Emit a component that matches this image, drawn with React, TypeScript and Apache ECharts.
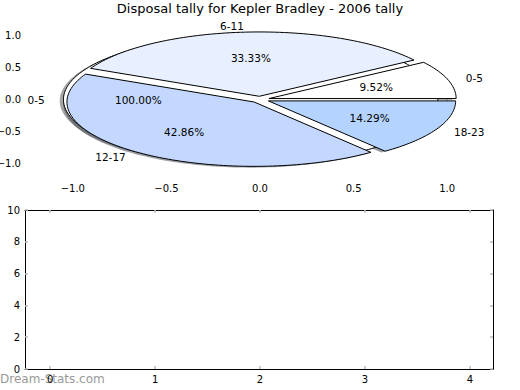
import React, { useEffect, useRef } from "react";
import * as echarts from "echarts";

const titleText = "Disposal tally for Kepler Bradley - 2006 tally";
const watermarkText = "Dream-Stats.com";

// Background (single-slice) pie
const backCategories = ["0-5"];
const backValues = [1];
// Foreground pie
const categories = ["0-5", "6-11", "12-17", "18-23"];
const values = [2, 7, 9, 3];

// Tick values
const pieXTicks = [-1, -0.5, 0, 0.5, 1];
const pieYTicks = [-1, -0.5, 0, 0.5, 1];
const barXTicks = [0, 1, 2, 3, 4];
const barYTicks = [0, 2, 4, 6, 8, 10];

// Styles
const backColors = ["#ffffff"];
const colors = ["#ffffff", "#e8f0ff", "#c4d8ff", "#b4d4ff"];
const EXPLODE = 0.05;
const SHADOW_OFF = -0.02;
const FONT = "DejaVu Sans";

type Wedge = {
  start: number;
  end: number;
  color: string;
  label: string;
  pct: string;
  explode: number;
};

function buildPie(labels: string[], vals: number[], cols: string[], explode: number): Wedge[] {
  const total = vals.reduce((a, b) => a + b, 0);
  let theta = 0;
  return vals.map((v, i) => {
    const t1 = theta + (360 * v) / total;
    const w = {
      start: theta,
      end: t1,
      color: cols[i],
      label: labels[i],
      pct: ((100 * v) / total).toFixed(2) + "%",
      explode,
    };
    theta = t1;
    return w;
  });
}

const wedges: Wedge[] = [
  ...buildPie(backCategories, backValues, backColors, EXPLODE),
  ...buildPie(categories, values, colors, EXPLODE),
];

function center(w: Wedge): [number, number] {
  const m = (((w.start + w.end) / 2) * Math.PI) / 180;
  return [w.explode * Math.cos(m), w.explode * Math.sin(m)];
}

function wedgePoints(api: any, w: Wedge, ox: number, oy: number) {
  const [cx, cy] = center(w);
  const pts: number[][] = [];
  const full = w.end - w.start >= 359.999;
  if (!full) pts.push(api.coord([cx + ox, cy + oy]));
  const n = Math.max(4, Math.ceil((w.end - w.start) / 1.5));
  const last = full ? n - 1 : n;
  for (let k = 0; k <= last; k++) {
    const a = ((w.start + ((w.end - w.start) * k) / n) * Math.PI) / 180;
    pts.push(api.coord([cx + ox + Math.cos(a), cy + oy + Math.sin(a)]));
  }
  return pts;
}

function shadowColor(hex: string) {
  const r = parseInt(hex.slice(1, 3), 16);
  const g = parseInt(hex.slice(3, 5), 16);
  const b = parseInt(hex.slice(5, 7), 16);
  return `rgba(${Math.round(r * 0.3)},${Math.round(g * 0.3)},${Math.round(b * 0.3)},0.5)`;
}

const fmtPie = (v: number) => (v < 0 ? "\u2212" : "") + Math.abs(v).toFixed(1);

const tickStyle = { color: "#bdbdbd", width: 1.5 };

export default function App() {
  const ref = useRef<HTMLDivElement>(null);
  useEffect(() => {
    if (!ref.current) return;
    const chart = echarts.init(ref.current, undefined, { renderer: "svg" });
    const data = wedges.map(() => [0, 0]);
    const labelStyle = { color: "#000", fontFamily: FONT, fontSize: 10 };
    chart.setOption({
      animation: false,
      backgroundColor: "#ffffff",
      textStyle: { fontFamily: FONT },
      grid: [
        { left: 26, width: 468, top: 21, height: 157, containLabel: false, outerBoundsMode: "none" },
        { left: 25, width: 468, top: 210, height: 159, containLabel: false, outerBoundsMode: "none" },
      ],
      xAxis: [
        {
          type: "value", gridIndex: 0, min: -1.25, max: 1.25, position: "bottom",
          axisLine: { show: false },
          axisTick: { show: true, inside: true, length: 3, customValues: pieXTicks, lineStyle: tickStyle },
          axisLabel: { ...labelStyle, margin: 5, customValues: pieXTicks, formatter: fmtPie },
          splitLine: { show: false },
        },
        {
          type: "value", gridIndex: 0, min: -1.25, max: 1.25, position: "top",
          axisLine: { show: false },
          axisTick: { show: true, inside: true, length: 3, customValues: pieXTicks, lineStyle: tickStyle },
          axisLabel: { show: false },
          splitLine: { show: false },
        },
        {
          type: "value", gridIndex: 1, min: -0.24, max: 4.22, position: "bottom",
          axisLine: { show: true, onZero: false, lineStyle: { color: "#000", width: 1 } },
          axisTick: { show: true, inside: true, length: 3, customValues: barXTicks, lineStyle: tickStyle },
          axisLabel: { ...labelStyle, margin: 5, customValues: barXTicks },
          splitLine: { show: false },
        },
        {
          type: "value", gridIndex: 1, min: -0.24, max: 4.22, position: "top",
          axisLine: { show: true, onZero: false, lineStyle: { color: "#000", width: 1 } },
          axisTick: { show: true, inside: true, length: 3, customValues: barXTicks, lineStyle: tickStyle },
          axisLabel: { show: false },
          splitLine: { show: false },
        },
      ],
      yAxis: [
        {
          type: "value", gridIndex: 0, min: -1.22, max: 1.22, position: "left",
          axisLine: { show: false },
          axisTick: { show: true, inside: true, length: 3, customValues: pieYTicks, lineStyle: tickStyle },
          axisLabel: { ...labelStyle, margin: 5, customValues: pieYTicks, formatter: fmtPie },
          splitLine: { show: false },
        },
        {
          type: "value", gridIndex: 0, min: -1.22, max: 1.22, position: "right",
          axisLine: { show: false },
          axisTick: { show: true, inside: true, length: 3, customValues: pieYTicks, lineStyle: tickStyle },
          axisLabel: { show: false },
          splitLine: { show: false },
        },
        {
          type: "value", gridIndex: 1, min: 0, max: 10, position: "left",
          axisLine: { show: true, onZero: false, lineStyle: { color: "#000", width: 1 } },
          axisTick: { show: true, inside: true, length: 3, customValues: barYTicks, lineStyle: tickStyle },
          axisLabel: { ...labelStyle, margin: 5, customValues: barYTicks },
          splitLine: { show: false },
        },
        {
          type: "value", gridIndex: 1, min: 0, max: 10, position: "right",
          axisLine: { show: true, onZero: false, lineStyle: { color: "#000", width: 1 } },
          axisTick: { show: true, inside: true, length: 3, customValues: barYTicks, lineStyle: tickStyle },
          axisLabel: { show: false },
          splitLine: { show: false },
        },
      ],
      series: [
        {
          type: "custom", name: "shadows", xAxisIndex: 0, yAxisIndex: 0, z: 1, silent: true,
          data,
          renderItem: (params: any, api: any) => {
            const w = wedges[params.dataIndex];
            return {
              type: "polygon",
              shape: { points: wedgePoints(api, w, SHADOW_OFF, SHADOW_OFF) },
              style: { fill: shadowColor(w.color), stroke: "none" },
            };
          },
        },
        {
          type: "custom", name: "wedges", xAxisIndex: 0, yAxisIndex: 0, z: 2, silent: true,
          data,
          renderItem: (params: any, api: any) => {
            const w = wedges[params.dataIndex];
            return {
              type: "polygon",
              shape: { points: wedgePoints(api, w, 0, 0) },
              style: { fill: w.color, stroke: "#000", lineWidth: 1, lineJoin: "round" },
            };
          },
        },
        {
          type: "custom", name: "labels", xAxisIndex: 0, yAxisIndex: 0, z: 3, silent: true,
          data,
          renderItem: (params: any, api: any) => {
            const w = wedges[params.dataIndex];
            const [cx, cy] = center(w);
            const m = (((w.start + w.end) / 2) * Math.PI) / 180;
            const lp = api.coord([cx + 1.1 * Math.cos(m), cy + 1.1 * Math.sin(m)]);
            const pp = api.coord([cx + 0.6 * Math.cos(m), cy + 0.6 * Math.sin(m)]);
            const xt = cx + 1.1 * Math.cos(m);
            return {
              type: "group",
              children: [
                {
                  type: "text", x: lp[0], y: lp[1],
                  style: { text: w.label, fill: "#000", fontSize: 10.5, fontFamily: FONT, align: xt > 0 ? "left" : "right", verticalAlign: "middle" },
                },
                {
                  type: "text", x: pp[0], y: pp[1],
                  style: { text: w.pct, fill: "#000", fontSize: 10.5, fontFamily: FONT, align: "center", verticalAlign: "middle" },
                },
              ],
            };
          },
        },
      ],
      graphic: [
        {
          type: "text", left: "center", top: 2,
          style: { text: titleText, fill: "#000", fontSize: 13, fontFamily: FONT },
        },
        {
          type: "text", left: 0, top: 373, z: 0,
          style: { text: watermarkText, fill: "#999999", fontSize: 12, fontFamily: FONT },
        },
      ],
    });
    return () => chart.dispose();
  }, []);
  return <div ref={ref} style={{ position: "fixed", left: 0, top: 0, width: 520, height: 390 }} />;
}
